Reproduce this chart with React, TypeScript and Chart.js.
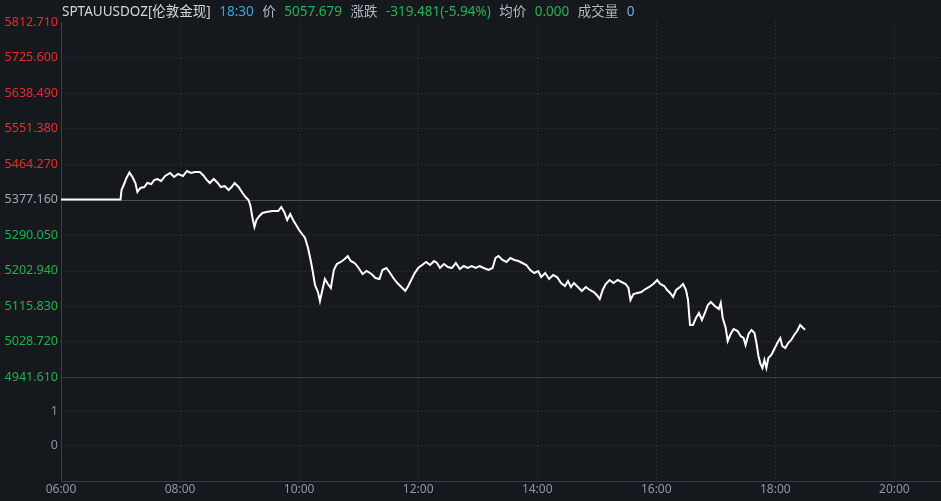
import React, { useEffect, useRef } from "react";
import { Chart, registerables } from "chart.js";

Chart.register(...registerables);

// ---------- data ----------
const times: string[] = [
  "06:00","07:00","07:01","07:04","07:06","07:09","07:12","07:15","07:17","07:20","07:24","07:27","07:31","07:34","07:37","07:41","07:45","07:50","07:54","07:58",
  "08:03","08:07","08:11","08:15","08:20","08:24","08:27","08:30","08:34","08:38","08:41","08:45","08:49","08:52","08:55","08:59",
  "09:03","09:06","09:09","09:11","09:13","09:15","09:17","09:20","09:23","09:27","09:33","09:39","09:42","09:45","09:48","09:51","09:54","09:57",
  "10:00","10:03","10:06","10:09","10:12","10:14","10:16","10:19","10:21","10:23","10:26","10:29","10:32","10:35","10:38","10:42","10:46","10:49","10:52","10:56",
  "11:00","11:04","11:08","11:13","11:17","11:21","11:24","11:28","11:31","11:35","11:39","11:43","11:47","11:50","11:53","11:56",
  "12:00","12:04","12:08","12:12","12:16","12:19","12:22","12:26","12:30","12:34","12:38","12:42","12:46","12:50","12:54","12:58",
  "13:02","13:06","13:11","13:15","13:18","13:21","13:25","13:29","13:33","13:37","13:41","13:45","13:49","13:53","13:57",
  "14:01","14:04","14:08","14:12","14:16","14:20","14:24","14:28","14:31","14:34","14:37","14:41","14:45","14:49","14:53","14:57",
  "15:00","15:03","15:06","15:09","15:13","15:17","15:21","15:25","15:29","15:32","15:34","15:37","15:41","15:45","15:49","15:53","15:57",
  "16:01","16:04","16:08","16:11","16:14","16:17","16:20","16:24","16:27","16:30","16:32","16:34","16:37","16:40","16:43","16:46","16:49","16:52","16:55","16:59",
  "17:03","17:05","17:07","17:10","17:12","17:15","17:18","17:22","17:25","17:28","17:30","17:33","17:36","17:39","17:41","17:43","17:45","17:47","17:49","17:51","17:53","17:56","17:59",
  "18:02","18:05","18:07","18:10","18:13","18:16","18:19","18:22","18:25","18:28","18:30",
];

const prices: number[] = [
  5377.16,5377.16,5400.47,5417.65,5429.92,5443.41,5432.37,5417.65,5395.56,5405.38,5407.83,5417.65,5415.19,5425.01,5427.46,5422.56,5434.82,5442.19,5432.37,5439.73,
  5434.82,5447.09,5442.19,5444.64,5444.64,5434.82,5425.01,5417.65,5427.46,5417.65,5407.83,5410.29,5400.47,5407.83,5417.65,5407.83,
  5393.11,5383.29,5375.93,5361.21,5331.76,5309.68,5326.86,5336.67,5344.03,5346.49,5348.94,5348.94,5358.76,5346.49,5326.86,5341.58,5326.86,5314.59,
  5302.32,5292.50,5282.69,5258.15,5223.80,5196.81,5167.36,5150.18,5128.10,5150.18,5182.08,5169.81,5160.00,5204.17,5218.89,5223.80,5231.16,5238.52,5226.25,5221.34,
  5209.07,5194.35,5201.71,5194.35,5184.54,5182.08,5204.17,5209.07,5199.26,5184.54,5172.27,5162.45,5152.64,5164.91,5179.63,5194.35,
  5209.07,5216.44,5223.80,5216.44,5226.25,5221.34,5209.07,5218.89,5211.53,5209.07,5221.34,5206.62,5213.98,5209.07,5213.98,5209.07,
  5213.98,5209.07,5204.17,5209.07,5233.61,5238.52,5228.71,5223.80,5233.61,5228.71,5226.25,5221.34,5216.44,5204.17,5196.81,
  5201.71,5186.99,5196.81,5182.08,5191.90,5186.99,5172.27,5164.91,5177.18,5162.45,5172.27,5162.45,5152.64,5162.45,5155.09,5150.18,
  5142.82,5133.01,5155.09,5169.81,5179.63,5172.27,5179.63,5174.72,5169.81,5160.00,5130.55,5145.28,5147.73,5150.18,5157.54,5162.45,5169.81,
  5179.63,5169.81,5164.91,5155.09,5147.73,5137.91,5155.09,5162.45,5169.81,5155.09,5130.55,5069.21,5069.21,5086.38,5098.65,5081.48,5098.65,5118.28,5125.65,5115.83,
  5108.47,5123.19,5086.38,5061.85,5029.95,5047.12,5059.39,5054.49,5042.22,5037.31,5020.13,5047.12,5056.94,5049.58,5025.04,4993.14,4973.51,4963.69,4983.33,4963.69,4988.23,4995.59,5010.32,
  5025.04,5037.31,5017.68,5012.77,5025.04,5032.40,5044.67,5054.49,5069.21,5061.85,5057.68,
];

const prevClose = 5377.16;
const priceTicks: number[] = [5812.71, 5725.6, 5638.49, 5551.38, 5464.27, 5377.16, 5290.05, 5202.94, 5115.83, 5028.72, 4941.61];
const volumeTicks: number[] = [1, 0];
const timeTickLabels: string[] = ["06:00", "08:00", "10:00", "12:00", "14:00", "16:00", "18:00", "20:00"];
const axisStart = "06:00";
const axisEnd = "20:47";
const volumeRange: number[] = [-1.09, 2];

const headerTexts: string[] = ["SPTAUUSDOZ[伦敦金现]", "18:30", "价", "5057.679", "涨跌", "-319.481(-5.94%)", "均价", "0.000", "成交量", "0"];
const headerColors: string[] = ["#d4d7dc", "#33a6dd", "#b4b9c0", "#1fb553", "#b4b9c0", "#1fb553", "#b4b9c0", "#1fb553", "#b4b9c0", "#7eaee0"];

// ---------- helpers ----------
const toMin = (t: string) => {
  const [h, m] = t.split(":").map(Number);
  const [h0, m0] = axisStart.split(":").map(Number);
  return h * 60 + m - (h0 * 60 + m0);
};
const fmtMin = (v: number) => {
  const [h0, m0] = axisStart.split(":").map(Number);
  const tot = h0 * 60 + m0 + Math.round(v);
  const h = Math.floor(tot / 60) % 24;
  const m = tot % 60;
  return String(h).padStart(2, "0") + ":" + String(m).padStart(2, "0");
};

const BG = "#15181d";
const FONT = "'Noto Sans', 'Noto Sans CJK SC', sans-serif";

const bgPlugin = {
  id: "bg",
  beforeDraw(chart: any) {
    const { ctx, width, height } = chart;
    ctx.save();
    ctx.fillStyle = BG;
    ctx.fillRect(0, 0, width, height);
    ctx.restore();
  },
};

const gridPlugin = {
  id: "paneGrid",
  beforeDatasetsDraw(chart: any) {
    const { ctx, chartArea: ca, scales } = chart;
    const x = scales.x, y = scales.y, v = scales.vol;
    const hline = (py: number) => {
      const yy = Math.round(py) + 0.5;
      ctx.beginPath();
      ctx.moveTo(ca.left, yy);
      ctx.lineTo(ca.right, yy);
      ctx.stroke();
    };
    ctx.save();
    ctx.lineWidth = 1;
    ctx.strokeStyle = "#3a3f47";
    ctx.setLineDash([1, 3]);
    priceTicks.forEach((t, i) => {
      if (i === 0 || i === priceTicks.length - 1 || t === prevClose) return;
      hline(y.getPixelForValue(t));
    });
    volumeTicks.forEach((t) => hline(v.getPixelForValue(t)));
    timeTickLabels.forEach((lab, i) => {
      if (i === 0) return;
      const px = Math.round(x.getPixelForValue(toMin(lab))) + 0.5;
      ctx.beginPath();
      ctx.moveTo(px, ca.top);
      ctx.lineTo(px, ca.bottom);
      ctx.stroke();
    });
    ctx.setLineDash([]);
    ctx.strokeStyle = "#4a4d53";
    hline(y.getPixelForValue(prevClose));
    ctx.strokeStyle = "#3c3f45";
    hline(y.getPixelForValue(priceTicks[priceTicks.length - 1]));
    hline(ca.bottom - 1);
    const lx = Math.round(ca.left) + 0.5;
    ctx.beginPath();
    ctx.moveTo(lx, ca.top);
    ctx.lineTo(lx, ca.bottom);
    ctx.stroke();
    ctx.restore();
  },
};

const headerPlugin = {
  id: "header",
  afterDraw(chart: any) {
    const { ctx, chartArea: ca } = chart;
    ctx.save();
    ctx.font = `13.5px ${FONT}`;
    ctx.textBaseline = "middle";
    ctx.textAlign = "left";
    let cx = ca.left + 1;
    headerTexts.forEach((t, i) => {
      ctx.fillStyle = headerColors[i];
      ctx.fillText(t, cx, 12);
      cx += ctx.measureText(t).width + 8.5;
    });
    ctx.restore();
  },
};

export default function App() {
  const ref = useRef<HTMLCanvasElement | null>(null);
  useEffect(() => {
    if (!ref.current) return;
    const points = times.map((t, i) => ({ x: toMin(t), y: prices[i] }));
    const chart = new Chart(ref.current, {
      type: "line",
      data: {
        datasets: [
          {
            data: points,
            borderColor: "#ffffff",
            borderWidth: 2,
            pointRadius: 0,
            tension: 0,
            fill: false,
            yAxisID: "y",
            xAxisID: "x",
          },
        ],
      },
      options: {
        animation: false,
        responsive: false,
        devicePixelRatio: 1,
        layout: { padding: { top: 22, right: 0, left: 0, bottom: 0 } },
        plugins: { legend: { display: false }, tooltip: { enabled: false } },
        scales: {
          x: {
            type: "linear",
            position: "bottom",
            min: toMin(axisStart),
            max: toMin(axisEnd),
            afterBuildTicks: (s: any) => {
              s.ticks = timeTickLabels.map((l) => ({ value: toMin(l) }));
            },
            afterFit: (s: any) => {
              s.height = 19;
            },
            grid: { display: false, drawTicks: false },
            border: { display: false },
            ticks: {
              autoSkip: false,
              maxRotation: 0,
              padding: 0,
              color: "#8c99aa",
              font: { family: FONT, size: 12 },
              callback: (val: any) => fmtMin(Number(val)),
            },
          },
          vol: {
            type: "linear",
            position: "left",
            stack: "pane",
            stackWeight: 105,
            min: volumeRange[0],
            max: volumeRange[1],
            afterBuildTicks: (s: any) => {
              s.ticks = volumeTicks.map((v) => ({ value: v }));
            },
            afterFit: (s: any) => {
              s.width = 61;
            },
            grid: { display: false, drawTicks: false },
            border: { display: false },
            ticks: {
              padding: 3,
              color: "#8592a6",
              font: { family: FONT, size: 12.5 },
              callback: (val: any) => String(val),
            },
          },
          y: {
            type: "linear",
            position: "left",
            stack: "pane",
            stackWeight: 355,
            min: priceTicks[priceTicks.length - 1],
            max: priceTicks[0],
            afterBuildTicks: (s: any) => {
              s.ticks = priceTicks.map((v) => ({ value: v }));
            },
            afterFit: (s: any) => {
              s.width = 61;
            },
            grid: { display: false, drawTicks: false },
            border: { display: false },
            ticks: {
              padding: 3,
              color: (c: any) => {
                const v = c.tick ? c.tick.value : 0;
                if (Math.abs(v - prevClose) < 1e-6) return "#a3a8b0";
                return v > prevClose ? "#ec2a30" : "#1db24f";
              },
              font: { family: FONT, size: 12.5 },
              callback: (val: any) => Number(val).toFixed(3),
            },
          },
        },
      } as any,
      plugins: [bgPlugin, gridPlugin, headerPlugin],
    });
    return () => chart.destroy();
  }, []);

  return (
    <div style={{ position: "fixed", left: 0, top: 0, width: 941, height: 501, background: BG }}>
      <canvas ref={ref} width={941} height={501} style={{ display: "block", width: 941, height: 501 }} />
    </div>
  );
}
